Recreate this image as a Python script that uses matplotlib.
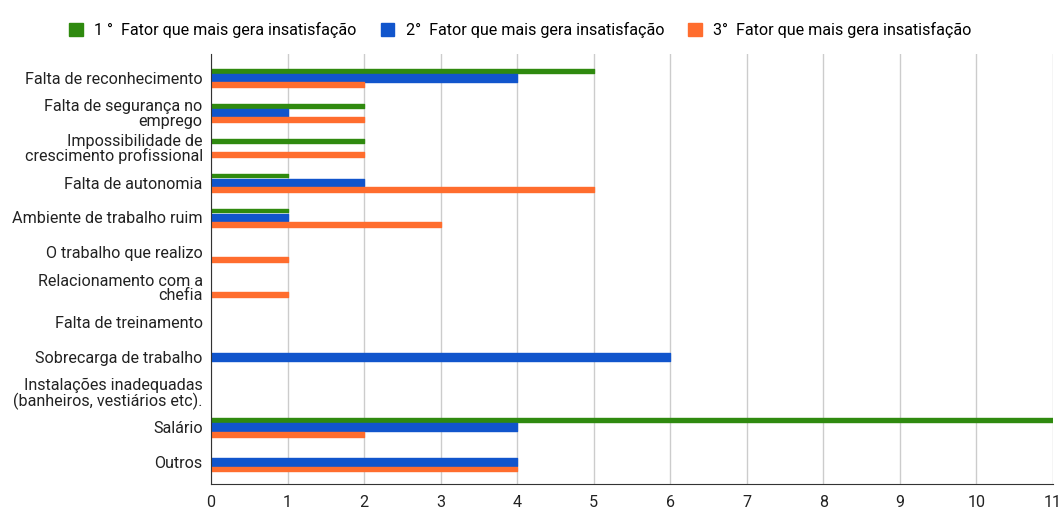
import numpy as np
import matplotlib
matplotlib.use("Agg")
import matplotlib.pyplot as plt

plt.rcParams['font.family'] = ['Roboto', 'DejaVu Sans']

categories = [
    "Falta de reconhecimento",
    "Falta de segurança no\nemprego",
    "Impossibilidade de\ncrescimento profissional",
    "Falta de autonomia",
    "Ambiente de trabalho ruim",
    "O trabalho que realizo",
    "Relacionamento com a\nchefia",
    "Falta de treinamento",
    "Sobrecarga de trabalho",
    "Instalações inadequadas\n(banheiros, vestiários etc).",
    "Salário",
    "Outros",
]
primeiro = [5, 2, 2, 1, 1, 0, 0, 0, 0, 0, 11, 0]
segundo = [4, 1, 0, 2, 1, 0, 0, 0, 6, 0, 4, 4]
terceiro = [2, 2, 2, 5, 3, 1, 1, 0, 0, 0, 2, 4]
series_labels = ["1 °  Fator que mais gera insatisfação",
                 "2°  Fator que mais gera insatisfação",
                 "3°  Fator que mais gera insatisfação"]

colors = ['#2f8a0f', '#1155cc', '#ff6d2e']
offsets = [-0.2, 0.0, 0.2]
heights = [0.11, 0.22, 0.14]

fig = plt.figure(figsize=(10.62, 5.09), dpi=100)
ax = fig.add_axes([0.1987, 0.0491, 0.7928, 0.8448])

y = np.arange(len(categories))
for vals, c, off, h, lab in zip([primeiro, segundo, terceiro], colors, offsets, heights, series_labels):
    vals = np.array(vals)
    lw = np.where(vals > 0, 1.0, 0.0)
    ax.barh(y + off, vals, height=h, color=c, edgecolor=c, linewidth=lw,
            joinstyle='round', label=lab, zorder=3)

ax.set_xlim(0, 11)
ax.set_ylim(11.63, -0.68)
ax.set_xticks(range(0, 12))
ax.set_yticks(y)
ax.set_yticklabels(categories, fontsize=11.6, color='#222222', linespacing=0.95)
ax.tick_params(axis='x', labelsize=11.6, colors='#222222', length=0, pad=8)
ax.tick_params(axis='y', length=0, pad=6)
ax.grid(axis='x', color='#cccccc', linewidth=1, zorder=0)
for s in ['top', 'right']:
    ax.spines[s].set_visible(False)
ax.spines['left'].set_color('#333333')
ax.spines['bottom'].set_color('#333333')
ax.spines['left'].set_zorder(4)

fig.legend(loc='upper center', bbox_to_anchor=(0.49, 0.985), ncol=3, frameon=False,
           fontsize=11.6, handlelength=0.85, handleheight=0.85, handletextpad=0.7,
           columnspacing=1.5)

fig.savefig("out.png", dpi=100)
